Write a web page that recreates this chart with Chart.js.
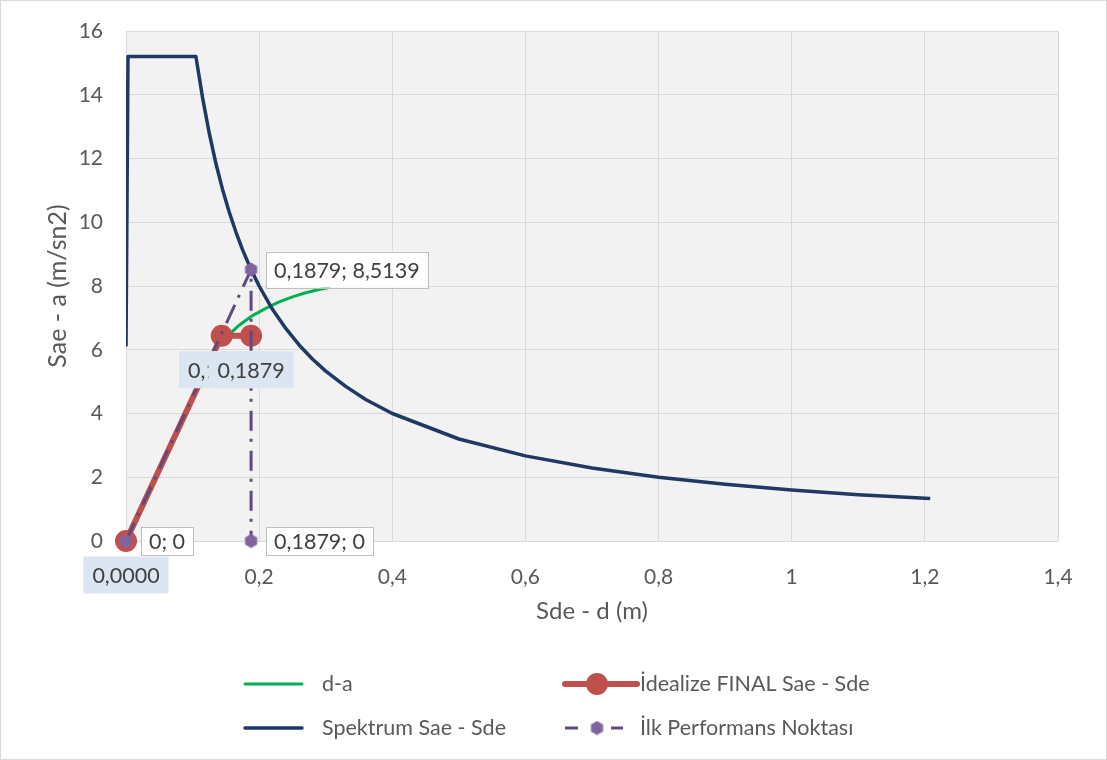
<!DOCTYPE html>
<html>
<head>
<meta charset="utf-8">
<script src="https://cdn.jsdelivr.net/npm/chart.js@4.4.1/dist/chart.umd.min.js"></script>
<style>
  html, body { margin: 0; padding: 0; background: #ffffff; }
  #wrap { width: 1107px; height: 760px; }
</style>
</head>
<body>
<div id="wrap"><canvas id="c" width="1107" height="760"></canvas></div>
<script>
// Spectrum (Sae - Sde)
const sdSpektrum = [0, 0.003, 0.105, 0.115, 0.125, 0.135, 0.145, 0.155, 0.165, 0.175, 0.1879, 0.2, 0.22, 0.24, 0.26, 0.28, 0.3, 0.33, 0.36, 0.4, 0.5, 0.6, 0.7, 0.8, 0.9, 1.0, 1.1, 1.208];
const saSpektrum = [6.1, 15.2, 15.2, 13.91, 12.8, 11.85, 11.03, 10.32, 9.7, 9.14, 8.5139, 8.0, 7.27, 6.67, 6.15, 5.71, 5.33, 4.85, 4.44, 4.0, 3.2, 2.67, 2.29, 2.0, 1.78, 1.6, 1.45, 1.33];

// Capacity curve (d-a)
const sdCapacity = [0, 0.135, 0.15, 0.17, 0.19, 0.21, 0.23, 0.25, 0.27, 0.29, 0.307];
const saCapacity = [0, 6.05, 6.38, 6.77, 7.07, 7.3, 7.5, 7.66, 7.79, 7.89, 7.96];

// Idealized bilinear curve
const sdIdeal = [0, 0.1438, 0.1879];
const saIdeal = [0, 6.44, 6.44];
const idealLabels = ['0,0000', '0,1438', '0,1879'];

// First performance point
const sdPerf = [0, 0.1879, 0.1879];
const saPerf = [0, 8.5139, 0];
const perfLabels = ['0; 0', '0,1879; 8,5139', '0,1879; 0'];

// Axis tick labels
const xTickLabels = ['0', '0,2', '0,4', '0,6', '0,8', '1', '1,2', '1,4'];
const yTickLabels = ['0', '2', '4', '6', '8', '10', '12', '14', '16'];

const seriesNames = ['d-a', 'İdealize FINAL Sae - Sde', 'Spektrum Sae - Sde', 'İlk Performans Noktası'];

const FONT = 'Lato, "Open Sans", sans-serif';
const TEXT = '#595959';

const toPoints = (xs, ys) => xs.map((x, i) => ({ x, y: ys[i] }));

// hexagon marker used by the performance-point series
function hexagon(size, fill) {
  const cv = document.createElement('canvas');
  cv.width = size; cv.height = size;
  const g = cv.getContext('2d');
  const r = size / 2;
  g.beginPath();
  for (let k = 0; k < 6; k++) {
    const a = Math.PI / 6 + k * Math.PI / 3;
    const px = r + (r - 0.5) * Math.cos(a), py = r + (r - 0.5) * Math.sin(a);
    k ? g.lineTo(px, py) : g.moveTo(px, py);
  }
  g.closePath();
  g.fillStyle = fill;
  g.fill();
  return cv;
}
const hexMarker = hexagon(15, '#8064a2');

// grey plot background and outer frame
const backdrop = {
  id: 'backdrop',
  beforeDraw(chart) {
    const { ctx, chartArea: a } = chart;
    ctx.save();
    ctx.fillStyle = '#ffffff';
    ctx.fillRect(0, 0, chart.width, chart.height);
    ctx.fillStyle = '#f2f2f2';
    ctx.fillRect(a.left, a.top, a.right - a.left, a.bottom - a.top);
    ctx.strokeStyle = '#d9d9d9';
    ctx.lineWidth = 1;
    ctx.strokeRect(0.5, 0.5, chart.width - 1, chart.height - 1);
    ctx.restore();
  }
};

// boxed data labels
const dataLabels = {
  id: 'dataLabels',
  afterDatasetsDraw(chart) {
    const { ctx } = chart;
    ctx.save();
    ctx.font = '21.5px ' + FONT;
    ctx.textBaseline = 'middle';
    chart.data.datasets.forEach((ds, di) => {
      const cfg = ds.boxLabels;
      if (!cfg) return;
      const meta = chart.getDatasetMeta(di);
      meta.data.forEach((pt, i) => {
        const text = cfg.texts[i];
        const w = ctx.measureText(text).width + cfg.padX * 2;
        const h = cfg.heights[i];
        let bx, by;
        if (cfg.place === 'right') {
          bx = pt.x + cfg.gap;
          by = pt.y - h / 2;
        } else {
          bx = pt.x - w / 2;
          by = pt.y + cfg.gap - h / 2;
        }
        ctx.fillStyle = cfg.fill;
        ctx.fillRect(bx, by, w, h);
        if (cfg.stroke) {
          ctx.strokeStyle = cfg.stroke;
          ctx.lineWidth = 1;
          ctx.strokeRect(Math.round(bx) + 0.5, Math.round(by) + 0.5, Math.round(w), Math.round(h));
        }
        ctx.fillStyle = '#404040';
        ctx.textAlign = 'left';
        ctx.fillText(text, bx + cfg.padX, by + h / 2 + 1);
      });
    });
    ctx.restore();
  }
};

// two-column legend under the plot
const legendGrid = {
  id: 'legendGrid',
  afterDraw(chart) {
    const { ctx } = chart;
    const ds = chart.data.datasets;
    const slots = [
      { d: 0, x: 245, y: 684 },
      { d: 1, x: 565, y: 684 },
      { d: 2, x: 245, y: 728 },
      { d: 3, x: 565, y: 728 }
    ];
    ctx.save();
    ctx.font = '21.5px ' + FONT;
    ctx.textBaseline = 'middle';
    ctx.textAlign = 'left';
    slots.forEach(s => {
      const d = ds[s.d];
      const x0 = s.x, x1 = s.x + 72, cx = (x0 + x1) / 2;
      const dashed = d.borderDash && d.borderDash.length;
      ctx.strokeStyle = d.borderColor;
      ctx.lineWidth = d.borderWidth;
      ctx.lineCap = 'round';
      if (dashed) {
        ctx.lineCap = 'butt';
        ctx.beginPath(); ctx.moveTo(x0, s.y); ctx.lineTo(x0 + 13, s.y); ctx.stroke();
        ctx.beginPath(); ctx.moveTo(x0 + 46, s.y); ctx.lineTo(x0 + 58, s.y); ctx.stroke();
        ctx.drawImage(hexMarker, cx - 4 - 7.5, s.y - 7.5);
      } else {
        ctx.beginPath(); ctx.moveTo(x0, s.y); ctx.lineTo(d.pointRadius ? x1 : s.x + 57, s.y); ctx.stroke();
        if (d.pointRadius) {
          ctx.fillStyle = d.pointBackgroundColor;
          ctx.beginPath(); ctx.arc(cx - 4, s.y, d.pointRadius, 0, Math.PI * 2); ctx.fill();
        }
      }
      ctx.fillStyle = TEXT;
      ctx.fillText(seriesNames[s.d], d.pointRadius || dashed ? s.x + 75 : s.x + 77, s.y);
    });
    ctx.restore();
  }
};

new Chart(document.getElementById('c'), {
  type: 'scatter',
  data: {
    datasets: [
      {
        label: seriesNames[0],
        data: toPoints(sdCapacity, saCapacity),
        showLine: true,
        borderColor: '#00b050',
        borderWidth: 3,
        pointRadius: 0,
        order: 3
      },
      {
        label: seriesNames[1],
        data: toPoints(sdIdeal, saIdeal),
        showLine: true,
        clip: false,
        borderColor: '#c0504d',
        borderWidth: 6,
        pointRadius: 11,
        pointBackgroundColor: '#c0504d',
        pointBorderWidth: 0,
        order: 2,
        boxLabels: { texts: idealLabels, place: 'below', gap: 34, padX: 9, heights: [37, 37, 37], fill: '#dce6f2' }
      },
      {
        label: seriesNames[2],
        data: toPoints(sdSpektrum, saSpektrum),
        showLine: true,
        borderColor: '#203864',
        borderWidth: 3.5,
        borderJoinStyle: 'round',
        pointRadius: 0,
        order: 1
      },
      {
        label: seriesNames[3],
        data: toPoints(sdPerf, saPerf),
        showLine: true,
        clip: false,
        borderColor: '#604a7b',
        borderWidth: 3,
        borderDash: [20, 8, 3, 9],
        pointStyle: hexMarker,
        pointRadius: 7,
        order: 0,
        boxLabels: { texts: perfLabels, place: 'right', gap: 15, padX: 8, heights: [28, 36, 28], fill: '#ffffff', stroke: '#bfbfbf' }
      }
    ]
  },
  options: {
    responsive: false,
    animation: false,
    events: [],
    layout: { padding: { top: 31, right: 49, bottom: 129, left: 0 } },
    plugins: {
      legend: { display: false },
      tooltip: { enabled: false }
    },
    scales: {
      x: {
        type: 'linear',
        min: 0, max: 1.4,
        z: 1,
        afterFit(s) { s.height = 90; },
        grid: { color: '#d9d9d9', lineWidth: 1, drawTicks: false, z: -1 },
        border: { display: false },
        ticks: {
          stepSize: 0.2,
          padding: 24,
          color: TEXT,
          font: { family: FONT, size: 21 },
          callback: (v) => xTickLabels[Math.round(v / 0.2)]
        },
        title: {
          display: true,
          text: 'Sde - d (m)',
          color: TEXT,
          font: { family: FONT, size: 24 },
          padding: { top: 0, bottom: 5 }
        }
      },
      y: {
        type: 'linear',
        min: 0, max: 16,
        afterFit(s) { s.width = 126; s.paddingTop = 0; s.paddingBottom = 0; },
        grid: { color: '#d9d9d9', lineWidth: 1, drawTicks: false },
        border: { display: false },
        ticks: {
          stepSize: 2,
          padding: 23,
          color: TEXT,
          font: { family: FONT, size: 21 },
          callback: (v) => yTickLabels[Math.round(v / 2)]
        },
        title: {
          display: true,
          text: 'Sae - a (m/sn2)',
          color: TEXT,
          font: { family: FONT, size: 25 },
          padding: { top: 43, bottom: 0 }
        }
      }
    }
  },
  plugins: [backdrop, dataLabels, legendGrid]
});
</script>
</body>
</html>
